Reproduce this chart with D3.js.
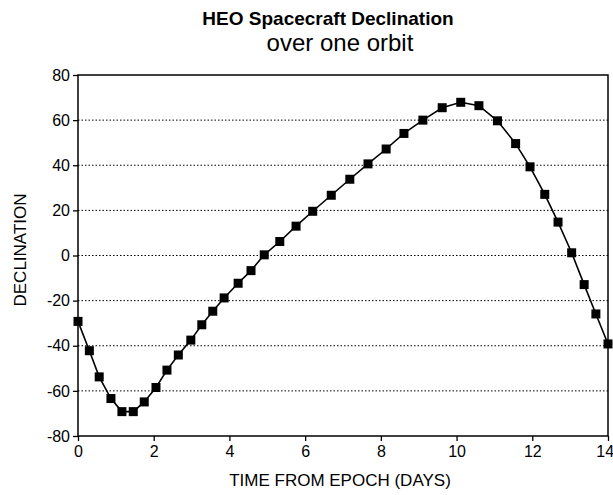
<!DOCTYPE html>
<html lang="en">
<head>
<meta charset="utf-8">
<script src="https://d3js.org/d3.v7.min.js"></script>
<style>
body { margin: 0; background: #fff; }
svg text { font-family: "Liberation Sans", Arial, Helvetica, sans-serif; fill: #000; }
</style>
</head>
<body>
<div id="canvas"></div>
<script>
// time from epoch (days) and declination (deg)
var days = [0, 0.30, 0.56, 0.87, 1.16, 1.46, 1.75, 2.06, 2.35, 2.65, 2.98, 3.27, 3.56, 3.86,
	4.23, 4.57, 4.92, 5.33, 5.76, 6.20, 6.69, 7.18, 7.66, 8.14, 8.61, 9.11, 9.62, 10.11,
	10.59, 11.08, 11.56, 11.94, 12.33, 12.68, 13.04, 13.37, 13.68, 14];
var declination = [-29.2, -42.2, -53.8, -63.4, -69.2, -69.2, -64.9, -58.5, -50.8, -44.1,
	-37.5, -30.7, -24.7, -18.8, -12.3, -6.7, 0.3, 6.2, 13, 19.6, 26.7, 33.8, 40.6, 47.2,
	54.1, 60, 65.5, 67.9, 66.4, 59.7, 49.6, 39.3, 27.1, 14.8, 1.2, -12.9, -25.9, -39.2];
var xTicks = [0, 2, 4, 6, 8, 10, 12, 14];
var yTicks = [-80, -60, -40, -20, 0, 20, 40, 60, 80];
var gridValues = [-60, -40, -20, 0, 20, 40, 60];
var titleLines = ["HEO Spacecraft Declination", "over one orbit"];
var xLabel = "TIME FROM EPOCH (DAYS)";
var yLabel = "DECLINATION";

function plain(d) { return String(d); }

function drawChart() {
	var svg = d3.select("#canvas").append("svg")
		.attr("width", 613)
		.attr("height", 495);

	var margin = {top: 75, right: 5, bottom: 59, left: 78},
		width = 613 - margin.left - margin.right,
		height = 495 - margin.top - margin.bottom;

	var x = d3.scaleLinear().domain([0, 14]).range([0, width]),
		y = d3.scaleLinear().domain([-80, 80]).range([height, 0]);

	var g = svg.append("g")
		.attr("transform", "translate(" + margin.left + "," + margin.top + ")");

	// dotted grid
	g.selectAll(".grid")
		.data(gridValues)
		.enter().append("line")
		.attr("class", "grid")
		.attr("x1", 0)
		.attr("x2", width)
		.attr("y1", function(d) { return y(d); })
		.attr("y2", function(d) { return y(d); })
		.attr("stroke", "#000")
		.attr("stroke-width", 1)
		.attr("stroke-dasharray", "1.5,2");

	// frame
	g.append("rect")
		.attr("width", width)
		.attr("height", height)
		.attr("fill", "none")
		.attr("stroke", "#000")
		.attr("stroke-width", 1.5);

	var xAxis = g.append("g")
		.attr("transform", "translate(0," + height + ")")
		.call(d3.axisBottom(x).tickValues(xTicks).tickFormat(plain)
			.tickSize(5).tickSizeOuter(0).tickPadding(5));
	xAxis.select(".domain").remove();
	xAxis.selectAll("text").style("font-size", "16px");
	// last label would run off the page
	xAxis.selectAll("text").filter(function(d) { return d === 14; })
		.attr("text-anchor", "end")
		.attr("dx", "0.35em");

	var yAxis = g.append("g")
		.call(d3.axisLeft(y).tickValues(yTicks).tickFormat(plain)
			.tickSize(5).tickSizeOuter(0).tickPadding(3));
	yAxis.select(".domain").remove();
	yAxis.selectAll("text").style("font-size", "16px");
	xAxis.selectAll("line").attr("stroke-width", 1.3);
	yAxis.selectAll("line").attr("stroke-width", 1.3);

	var points = days.map(function(d, i) { return {t: d, v: declination[i]}; });

	var line = d3.line()
		.x(function(d) { return x(d.t); })
		.y(function(d) { return y(d.v); });

	g.append("path")
		.datum(points)
		.attr("fill", "none")
		.attr("stroke", "#000")
		.attr("stroke-width", 1.6)
		.attr("d", line);

	var s = 9;
	g.selectAll(".pt")
		.data(points)
		.enter().append("rect")
		.attr("class", "pt")
		.attr("x", function(d) { return x(d.t) - s / 2; })
		.attr("y", function(d) { return y(d.v) - s / 2; })
		.attr("width", s)
		.attr("height", s)
		.attr("fill", "#000");

	svg.append("text")
		.attr("x", 328)
		.attr("y", 25)
		.attr("text-anchor", "middle")
		.style("font-size", "19px")
		.style("font-weight", "bold")
		.text(titleLines[0]);

	svg.append("text")
		.attr("x", 340)
		.attr("y", 51)
		.attr("text-anchor", "middle")
		.style("font-size", "24px")
		.text(titleLines[1]);

	svg.append("text")
		.attr("x", 340)
		.attr("y", 486)
		.attr("text-anchor", "middle")
		.style("font-size", "17px")
		.text(xLabel);

	svg.append("text")
		.attr("transform", "translate(26,250) rotate(-90)")
		.attr("text-anchor", "middle")
		.style("font-size", "17px")
		.text(yLabel);
}

drawChart();
</script>
</body>
</html>
